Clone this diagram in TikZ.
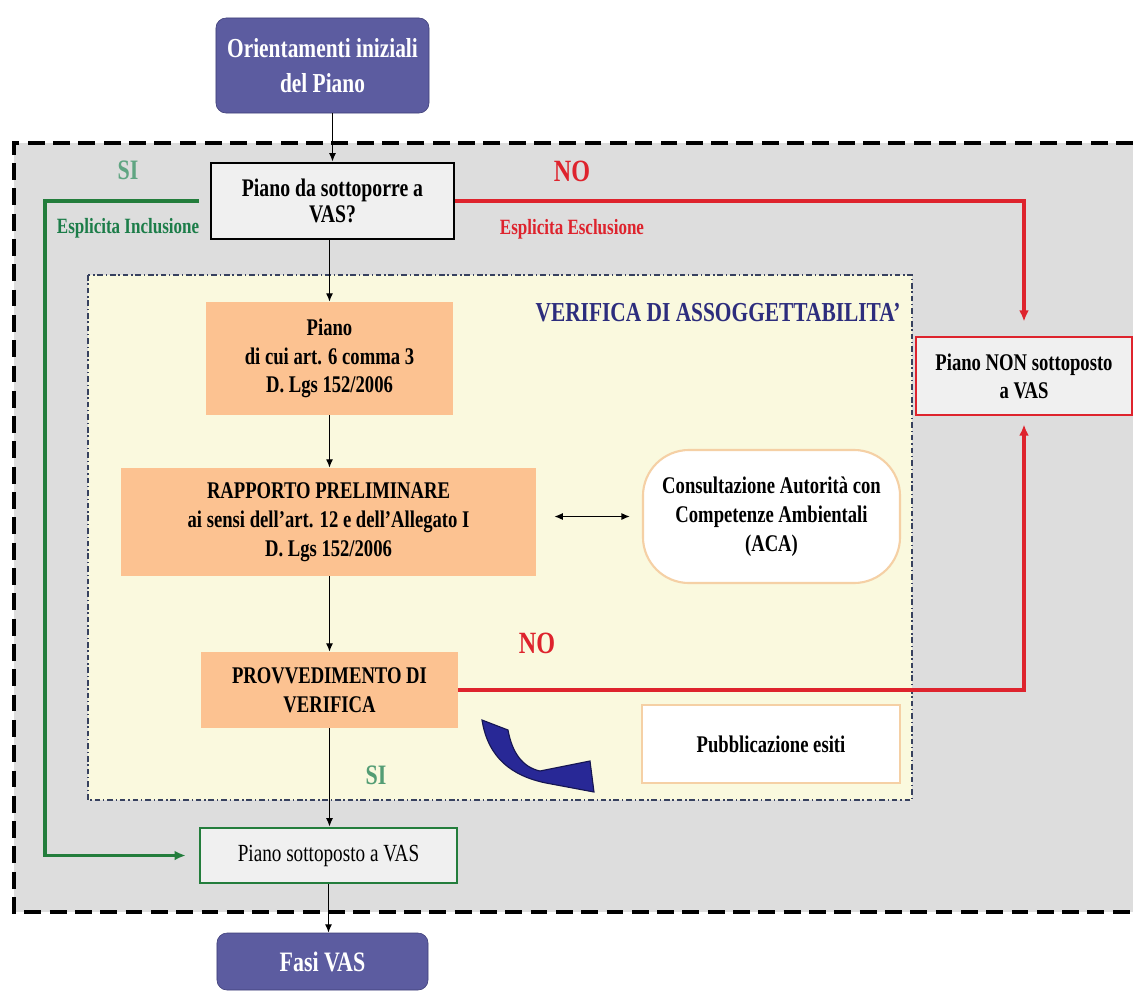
\documentclass[tikz,border=0pt]{standalone}
\usepackage{fontspec}
\setmainfont[FakeStretch=0.78]{Liberation Serif}
\usetikzlibrary{arrows.meta,shapes.misc,positioning}
\definecolor{viola}{RGB}{92,92,160}
\definecolor{violascuro}{RGB}{62,62,120}
\definecolor{arancio}{RGB}{252,194,145}
\definecolor{bordoarancio}{RGB}{245,208,165}
\definecolor{giallino}{RGB}{250,249,222}
\definecolor{grigio}{RGB}{221,221,221}
\definecolor{grigiobox}{RGB}{240,240,240}
\definecolor{verde}{RGB}{35,125,60}
\definecolor{verdechiaro}{RGB}{95,165,130}
\definecolor{rosso}{RGB}{222,35,45}
\definecolor{blutitolo}{RGB}{45,45,125}
\definecolor{bluarrow}{RGB}{40,40,150}
\definecolor{tratteggio}{RGB}{55,65,95}

\begin{document}
\begin{tikzpicture}
[x=0.025cm,y=-0.025cm,
    head/.style={draw=violascuro,fill=viola,rounded corners=.25cm,text=white,align=center,
        font=\bfseries\fontsize{19.5}{25}\selectfont},
    proc/.style={fill=arancio,align=center,font=\bfseries\fontsize{17}{20.5}\selectfont},
    quest/.style={draw=black,line width=2pt,fill=grigiobox,align=center,
        font=\bfseries\fontsize{18}{19}\selectfont},
    esito/.style={line width=2pt,fill=grigiobox,align=center,font=\fontsize{17.5}{20.5}\selectfont},
    side/.style={draw=bordoarancio,line width=1.5pt,fill=white,align=center,
        font=\bfseries\fontsize{17}{20.5}\selectfont},
    lab/.style={font=\bfseries\fontsize{15.5}{18}\selectfont},
    big/.style={font=\bfseries\fontsize{22}{24}\selectfont},
    myedge/.style={>={Latex[length=6pt,width=5pt]},line width=.9pt}]
\useasboundingbox (0,0) rectangle (1133,995);
%%%%%%%%%%
%%%%% regions
\fill[grigio] (14,143) rectangle (1133,912);
\draw[line width=3pt,dash pattern=on 12pt off 6pt] (1133,143) -- (14,143) -- (14,912) -- (1133,912);
\filldraw[fill=giallino,draw=tratteggio,line width=1.1pt,dash pattern=on 4pt off 2pt on 1pt off 2pt]
    (88,275) rectangle (912,800);
\node[text=blutitolo,font=\bfseries\fontsize{19.5}{22}\selectfont] (titver) at (718,313) {VERIFICA DI ASSOGGETTABILITA'};
%%
%% nodes
\node (orient) [head,minimum width=5.325cm,minimum height=2.375cm] at (322.5,65.5) {Orientamenti iniziali\\del Piano};
\node (q) [quest,minimum width=6.075cm,minimum height=1.9cm] at (332.5,201) {Piano da sottoporre a\\VAS?};
\node (piano) [proc,minimum width=6.175cm,minimum height=2.825cm] at (329.5,358.5) {Piano\\di cui art. 6 comma 3\\D. Lgs 152/2006};
\node (rapp) [proc,minimum width=10.375cm,minimum height=2.7cm] at (328.5,522) {RAPPORTO PRELIMINARE\\ai sensi dell'art. 12 e dell'Allegato I\\D. Lgs 152/2006};
\node (aca) [side,rounded corners=1.15cm,minimum width=6.425cm,minimum height=3.325cm] at (771.5,516.5) {Consultazione Autorità con\\Competenze Ambientali\\(ACA)};
\node (provv) [proc,minimum width=6.425cm,minimum height=1.9cm] at (329.5,690) {PROVVEDIMENTO DI\\VERIFICA};
\node (pubbl) [side,minimum width=6.45cm,minimum height=1.95cm] at (771,744) {Pubblicazione esiti};
\node (non) [esito,draw=rosso,font=\bfseries\fontsize{17}{20}\selectfont,minimum width=5.4cm,minimum height=1.95cm] at (1024,376) {Piano NON sottoposto\\a VAS};
\node (sott) [esito,draw=verde,minimum width=6.425cm,minimum height=1.375cm] at (328.5,855.5) {Piano sottoposto a VAS};
\node (fasi) [head,font=\bfseries\fontsize{20}{24}\selectfont,minimum width=5.275cm,minimum height=1.425cm] at (322.5,961.5) {Fasi VAS};
%% labels
\node (siA) [big,text=verdechiaro,font=\bfseries\fontsize{20}{22}\selectfont] at (128,170) {SI};
\node (incl) [lab,text=verde!80!teal] at (128,228) {Esplicita Inclusione};
\node (noA) [big,text=rosso] at (572,171) {NO};
\node (escl) [lab,text=rosso] at (572,229) {Esplicita Esclusione};
\node (noB) [big,text=rosso] at (537,643) {NO};
\node (siB) [big,text=verdechiaro!80!verde,font=\bfseries\fontsize{20}{22}\selectfont] at (376,775) {SI};
%% edges
\draw[myedge,->] (orient.south -| q) -- (q);
\draw[myedge,->] (q.south -| piano) -- (piano);
\draw[myedge,->] (piano) -- (piano.south |- rapp.north);
\draw[myedge,->] (rapp.south -| provv) -- (provv);
\draw[myedge,->] (provv) -- (provv.south |- sott.north);
\draw[myedge,->] (sott.south) -- (fasi.north -| sott);
\draw[myedge,<->,shorten <=.45cm,shorten >=.3cm] (rapp.east |- aca) -- (aca);
\coordinate (gl) at (45,500);
\draw[-{Latex[length=8pt,width=7pt]},line width=2.4pt,draw=verde,shorten >=.32cm] ([xshift=-.27cm]q.west) -| (gl) |- (sott.west);
\draw[-{Latex[length=8pt,width=7pt]},line width=2.4pt,draw=rosso,shorten >=.35cm] (q.east) -| (non.north);
\draw[-{Latex[length=8pt,width=7pt]},line width=2.4pt,draw=rosso,shorten >=.2cm] (provv.east) -| (non.south);
%% curved arrow
\filldraw[fill=bluarrow,draw=bluarrow!55!black,line width=.8pt]
    (482,720) -- (508,730) .. controls (512,752) and (522,767) .. (540,771)
    -- (590,761) -- (594,792) -- (546,783)
    .. controls (512,776) and (488,758) .. (482,720) -- cycle;
\end{tikzpicture}
\end{document}
